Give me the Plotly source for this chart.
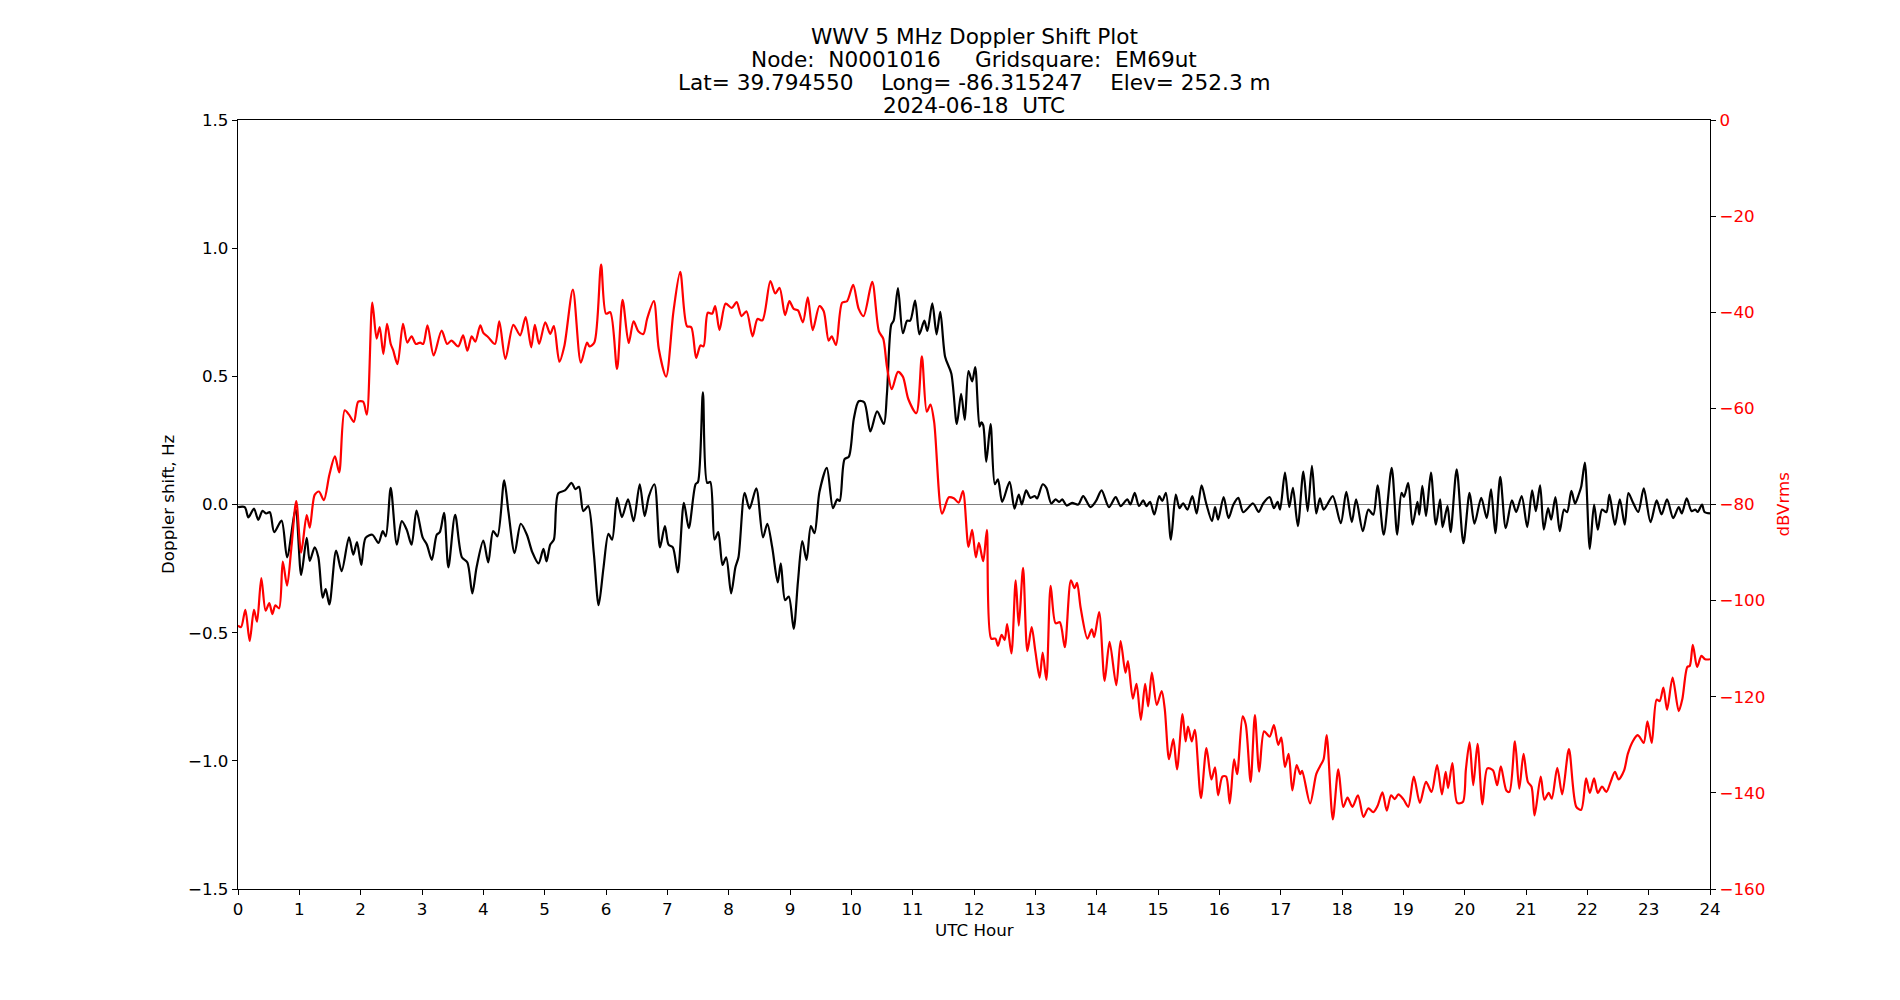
import plotly.graph_objects as go

# ---- Doppler shift (Hz), black trace ----
doppler_hours = [0.0, 0.11, 0.17, 0.26, 0.33, 0.40, 0.46, 0.52, 0.59, 0.71, 0.80, 0.94, 1.03, 1.12, 1.17, 1.25, 1.31, 1.38, 1.43, 1.49,
                 1.60, 1.69, 1.81, 1.88, 1.94, 2.01, 2.08, 2.19, 2.29, 2.36, 2.41, 2.49, 2.59, 2.67, 2.75, 2.83, 2.91, 3.01, 3.08, 3.16,
                 3.24, 3.29, 3.36, 3.43, 3.54, 3.65, 3.74, 3.82, 3.89, 4.00,
                 4.08, 4.16, 4.23, 4.34, 4.41, 4.51, 4.61, 4.71, 4.80, 4.90, 4.98, 5.03, 5.09, 5.15, 5.22, 5.33, 5.44, 5.50, 5.56, 5.63,
                 5.71, 5.80, 5.88, 5.96, 6.04, 6.10, 6.18, 6.26, 6.36, 6.45, 6.55, 6.63, 6.70, 6.79, 6.88, 6.96, 7.02, 7.09, 7.17, 7.27,
                 7.35, 7.46, 7.50, 7.58, 7.65, 7.70, 7.77, 7.83, 7.90, 7.96, 8.04,
                 8.11, 8.16, 8.26, 8.34, 8.45, 8.56, 8.63, 8.71, 8.80, 8.85, 8.92, 8.98, 9.06, 9.13, 9.20, 9.27, 9.34, 9.40, 9.48, 9.60,
                 9.70, 9.77, 9.81, 9.89, 9.96, 10.04, 10.12, 10.21, 10.31, 10.42, 10.53, 10.58, 10.65, 10.69, 10.76, 10.84, 10.91, 10.96,
                 11.04, 11.11, 11.19, 11.24, 11.32, 11.39, 11.45, 11.53, 11.63, 11.72, 11.79, 11.85, 11.91, 11.97, 12.02, 12.09,
                 12.12, 12.15, 12.20, 12.27, 12.34, 12.39, 12.46, 12.58, 12.66, 12.73, 12.78, 12.85, 12.92, 12.99, 13.03, 13.12, 13.18,
                 13.26, 13.33, 13.39, 13.44, 13.51, 13.60, 13.70, 13.78, 13.90, 13.99, 14.08, 14.20, 14.31, 14.39, 14.50, 14.55, 14.62,
                 14.69, 14.76, 14.81, 14.87, 14.94, 15.02, 15.07, 15.13, 15.21, 15.29, 15.35, 15.41, 15.48, 15.56, 15.63, 15.71, 15.78,
                 15.88, 15.93, 15.98, 16.07,
                 16.15, 16.23, 16.31, 16.39, 16.55, 16.64, 16.72, 16.82, 16.89, 16.95, 16.99, 17.07, 17.14, 17.20, 17.28, 17.37, 17.44,
                 17.51, 17.58, 17.64, 17.70, 17.76, 17.85, 17.98, 18.07, 18.16, 18.23, 18.34, 18.43, 18.51, 18.58, 18.68, 18.81, 18.90,
                 18.97, 19.01, 19.08, 19.15, 19.23, 19.26, 19.31, 19.37, 19.45, 19.53, 19.60, 19.64, 19.72, 19.77, 19.87, 19.98, 20.08,
                 20.16, 20.27, 20.36, 20.43, 20.50, 20.58, 20.67, 20.77, 20.84, 20.93, 21.02, 21.10, 21.16, 21.23, 21.29, 21.36, 21.41,
                 21.48, 21.55, 21.62, 21.67, 21.74, 21.80, 21.86, 21.90, 21.96, 22.04, 22.11, 22.17, 22.24, 22.31, 22.36, 22.45, 22.53,
                 22.61, 22.67, 22.74, 22.83, 22.92, 23.03, 23.13, 23.21, 23.30, 23.40, 23.49, 23.54, 23.62, 23.70, 23.76, 23.80, 23.87,
                 23.91, 24.0]
doppler_hz = [-0.010, -0.010, -0.050, -0.016, -0.060, -0.025, -0.035, -0.030, -0.108, -0.063, -0.206, -0.020, -0.275, -0.130, -0.220,
              -0.167, -0.206, -0.363, -0.330, -0.390, -0.180, -0.260, -0.128, -0.196, -0.147, -0.236, -0.130, -0.118, -0.150, -0.104,
              -0.124, 0.065, -0.157, -0.065, -0.098, -0.157, -0.024, -0.128, -0.157, -0.216, -0.118, -0.108, -0.033, -0.245, -0.040,
              -0.206, -0.226, -0.347, -0.245, -0.141,
              -0.226, -0.104, -0.124, 0.094, -0.030, -0.190, -0.075, -0.118, -0.187, -0.230, -0.173, -0.222, -0.157, -0.137, 0.043,
              0.055, 0.084, 0.060, 0.069, -0.026, -0.006, -0.187, -0.393, -0.245, -0.114, -0.137, 0.026, -0.049, 0.020, -0.065, 0.079,
              -0.045, 0.033, 0.079, -0.167, -0.084, -0.157, -0.167, -0.265, 0.006, -0.092, 0.079, 0.088, 0.438, 0.084, 0.088, -0.137,
              -0.108, -0.236, -0.206, -0.347,
              -0.245, -0.206, 0.045, -0.016, 0.063, -0.128, -0.075, -0.167, -0.304, -0.230, -0.373, -0.359, -0.485, -0.300, -0.143,
              -0.216, -0.084, -0.112, 0.049, 0.143, -0.014, 0.020, 0.014, 0.177, 0.187, 0.334, 0.403, 0.399, 0.285, 0.363, 0.314,
              0.430, 0.701, 0.717, 0.844, 0.668, 0.717, 0.717, 0.795, 0.664, 0.717, 0.677, 0.785, 0.664, 0.752, 0.575, 0.511, 0.314,
              0.432, 0.330, 0.520, 0.480, 0.536, 0.304,
              0.320, 0.310, 0.167, 0.314, 0.079, 0.098, 0.010, 0.088, -0.016, 0.039, 0.000, 0.055, 0.026, 0.033, 0.024, 0.079, 0.065,
              0.004, 0.020, 0.010, 0.020, -0.004, 0.006, 0.000, 0.033, -0.010, 0.014, 0.055, -0.010, 0.029, -0.006, 0.020, 0.000,
              0.045, -0.006, 0.016, -0.006, 0.010, -0.039, 0.033, 0.014, 0.045, -0.137, 0.039, -0.014, 0.004, -0.020, 0.033, -0.035,
              0.075, 0.010, -0.065, -0.010, -0.059, 0.029,
              -0.053, 0.000, 0.026, -0.030, 0.004, -0.029, 0.006, 0.029, -0.014, 0.010, -0.020, 0.124, -0.010, 0.065, -0.084, 0.128,
              -0.026, 0.151, -0.035, 0.024, -0.020, 0.000, 0.033, -0.073, 0.049, -0.069, 0.020, -0.104, -0.020, -0.040, 0.075, -0.118,
              0.143, -0.118, 0.045, 0.030, 0.084, -0.079, 0.010, -0.040, 0.073, -0.045, 0.124, -0.079, 0.020, -0.088, -0.006, -0.108,
              0.137, -0.151, 0.045,
              -0.075, 0.026, -0.053, 0.059, -0.112, 0.108, -0.092, 0.016, -0.029, 0.033, -0.088, 0.055, -0.026, 0.075, -0.098, -0.014,
              -0.059, 0.029, -0.104, -0.020, -0.030, 0.053, 0.004, 0.039, 0.069, 0.163, -0.173, 0.000, -0.098, -0.020, -0.030, 0.039,
              -0.079, 0.020, -0.079, 0.045, 0.010, -0.029, 0.063, -0.069, 0.016, -0.039, 0.020, -0.053, -0.010, -0.035, 0.024, -0.026,
              -0.020, -0.029, 0.000, -0.029, -0.035]

# ---- Received power (dBVrms), red trace ----
power_hours = [0.0, 0.05, 0.12, 0.19, 0.26, 0.31, 0.38, 0.45, 0.51, 0.56, 0.61, 0.67, 0.73, 0.80, 0.87, 0.95, 1.03, 1.12, 1.17, 1.25,
               1.32, 1.40, 1.49, 1.58, 1.65, 1.74, 1.81, 1.89, 1.96, 2.04, 2.10, 2.19, 2.26, 2.31, 2.37, 2.43, 2.49, 2.53, 2.60, 2.69,
               2.76, 2.83, 2.90, 2.97, 3.02, 3.09, 3.19, 3.32, 3.41, 3.48, 3.59, 3.67, 3.74, 3.81, 3.87, 3.95, 4.0,
               4.08, 4.19, 4.26, 4.36, 4.49, 4.60, 4.69, 4.78, 4.84, 4.91, 5.01, 5.09, 5.15, 5.24, 5.32, 5.46, 5.59, 5.69, 5.73, 5.81,
               5.92, 6.00, 6.07, 6.18, 6.27, 6.37, 6.45, 6.53, 6.61, 6.67, 6.78, 6.86, 6.98, 7.10, 7.21, 7.32, 7.39, 7.47, 7.54, 7.59,
               7.66, 7.73, 7.78, 7.85, 7.95, 8.05,
               8.13, 8.21, 8.29, 8.39, 8.47, 8.55, 8.68, 8.76, 8.83, 8.92, 8.99, 9.06, 9.13, 9.21, 9.29, 9.37, 9.48, 9.55, 9.63, 9.68,
               9.75, 9.85, 9.93, 10.03, 10.12, 10.20, 10.34, 10.45, 10.52, 10.58, 10.66, 10.76, 10.84, 10.93, 11.06, 11.15, 11.23,
               11.29, 11.35, 11.48, 11.59, 11.67, 11.75, 11.82, 11.91, 11.97, 12.03, 12.08,
               12.15, 12.21, 12.28, 12.35, 12.39, 12.45, 12.50, 12.54, 12.61, 12.68, 12.73, 12.80, 12.87, 12.94, 13.00, 13.07, 13.12,
               13.18, 13.25, 13.33, 13.40, 13.48, 13.58, 13.64, 13.68, 13.74, 13.85, 13.92, 13.96, 14.04, 14.13, 14.21, 14.32, 14.39,
               14.47, 14.51, 14.59, 14.65, 14.72, 14.79, 14.84, 14.90, 14.98, 15.06, 15.11, 15.18, 15.25, 15.31, 15.40, 15.45, 15.49,
               15.55, 15.60, 15.70, 15.79, 15.87, 15.93, 15.98, 16.05,
               16.11, 16.17, 16.24, 16.29, 16.38, 16.43, 16.51, 16.58, 16.65, 16.73, 16.82, 16.89, 16.96, 17.01, 17.07, 17.13, 17.19,
               17.26, 17.32, 17.35, 17.48, 17.58, 17.64, 17.70, 17.75, 17.85, 17.94, 18.02, 18.09, 18.17, 18.26, 18.35, 18.43, 18.51,
               18.58, 18.66, 18.73, 18.80, 18.86, 18.92, 19.00, 19.08, 19.17, 19.27, 19.37, 19.46, 19.55, 19.63, 19.69, 19.73, 19.80,
               19.88, 19.97, 20.02, 20.08,
               20.14, 20.21, 20.29, 20.37, 20.46, 20.53, 20.59, 20.68, 20.73, 20.82, 20.89, 20.96, 21.03, 21.09, 21.14, 21.24, 21.30,
               21.37, 21.42, 21.51, 21.59, 21.70, 21.82, 21.90, 21.98, 22.04, 22.11, 22.17, 22.24, 22.31, 22.38, 22.45, 22.51, 22.60,
               22.66, 22.74, 22.82, 22.85, 22.92, 22.98, 23.05, 23.13, 23.18, 23.24, 23.30, 23.39, 23.49, 23.55, 23.63, 23.67, 23.72,
               23.79, 23.86, 23.92, 24.0]
power_dbv = [-105.2, -105.5, -101.9, -108.4, -101.9, -104.4, -95.3, -102.1, -100.5, -102.8, -101.0, -101.6, -91.9, -96.9, -89.0,
             -79.3, -90.0, -82.2, -84.8, -78.0, -77.3, -79.1, -73.8, -70.0, -73.3, -60.4, -61.3, -62.8, -58.6, -58.6, -61.3, -38.0,
             -45.5, -43.1, -48.7, -42.4, -46.6, -47.9, -50.8, -42.4, -46.3, -45.0, -46.6, -46.3, -46.6, -42.7, -49.0, -43.8, -46.6,
             -45.9, -47.1, -44.8, -48.0, -45.0, -46.1, -42.7, -44.3,
             -45.2, -46.6, -41.9, -49.7, -42.6, -44.8, -41.0, -47.3, -42.6, -46.6, -42.1, -44.5, -42.9, -50.3, -47.1, -35.3, -50.5,
             -46.3, -47.1, -46.3, -30.1, -40.3, -40.0, -51.8, -37.4, -46.4, -41.9, -44.0, -44.5, -41.4, -37.7, -47.6, -53.4, -39.8,
             -31.6, -42.9, -43.1, -49.5, -46.9, -47.1, -40.1, -40.3, -38.7, -43.7, -38.2, -39.1,
             -37.9, -40.8, -39.8, -45.0, -41.4, -41.7, -33.5, -36.1, -34.9, -40.6, -37.7, -39.3, -39.6, -42.1, -36.9, -43.7, -38.7,
             -39.8, -45.9, -45.0, -46.8, -38.0, -37.7, -34.3, -39.3, -40.8, -33.7, -44.0, -45.5, -51.3, -56.0, -52.4, -53.4, -58.1,
             -61.0, -49.2, -60.7, -59.2, -62.8, -81.9, -78.5, -78.7, -79.6, -77.2, -88.8, -85.3, -91.0, -88.0,
             -91.8, -85.3, -107.9, -107.9, -109.4, -107.1, -108.2, -104.9, -111.0, -95.8, -105.2, -93.2, -110.5, -105.5, -110.5,
             -116.0, -110.8, -116.5, -96.9, -104.7, -104.5, -109.7, -95.8, -97.4, -96.3, -101.6, -107.9, -106.0, -107.6, -102.4,
             -116.7, -108.6, -117.6, -108.4, -115.0, -112.6, -120.4, -117.3, -124.8, -117.3, -122.0, -115.0, -121.7, -118.8, -122.5,
             -133.0, -128.8, -135.1, -123.6, -129.3, -126.2, -129.3, -126.9, -141.1, -130.7, -137.2, -134.7, -140.5, -136.6,
             -136.6, -142.2, -133.0, -136.1, -124.1, -125.7, -137.7, -123.8, -135.6, -127.2, -128.3, -125.9, -130.0, -128.5, -134.6,
             -131.9, -139.5, -134.2, -136.1, -135.4, -142.2, -136.1, -134.5, -133.0, -128.0, -145.5, -135.1, -142.9, -141.0, -142.9,
             -140.5, -145.0, -143.2, -144.0, -142.7, -139.9, -143.7, -140.5, -141.3, -140.3, -141.3, -142.9, -136.6, -142.1, -137.7,
             -139.8, -134.2, -140.3, -135.6, -139.0, -133.8, -142.1, -141.9, -135.1, -129.5,
             -138.4, -129.8, -142.4, -134.9, -135.3, -138.4, -134.5, -139.5, -139.8, -129.3, -139.1, -131.9, -137.7, -138.7, -144.7,
             -136.6, -141.4, -140.0, -141.2, -134.8, -140.3, -130.9, -142.9, -143.5, -137.0, -140.0, -137.0, -140.0, -138.7, -139.8,
             -137.7, -135.6, -137.2, -135.3, -131.9, -129.3, -128.0, -128.3, -129.6, -125.1, -129.6, -120.6, -120.9, -118.1, -122.7,
             -116.0, -123.0, -120.4, -113.8, -113.6, -109.2, -113.8, -111.5, -112.2, -112.2]

hour_ticks = list(range(0, 25))
doppler_ticks = [-1.5, -1.0, -0.5, 0.0, 0.5, 1.0, 1.5]
power_ticks = [-160, -140, -120, -100, -80, -60, -40, -20, 0]

title_lines = ["WWV 5 MHz Doppler Shift Plot",
               "Node:  N0001016     Gridsquare:  EM69ut",
               "Lat= 39.794550    Long= -86.315247    Elev= 252.3 m",
               "2024-06-18  UTC"]

FONT = "DejaVu Sans"
TICK = 16.7
TITLE = 21.6

fig = go.Figure()
fig.add_trace(go.Scatter(x=doppler_hours, y=doppler_hz, mode="lines",
                         line=dict(color="black", width=2.2, shape="spline", smoothing=0.8),
                         yaxis="y", showlegend=False, hoverinfo="skip"))
fig.add_trace(go.Scatter(x=power_hours, y=power_dbv, mode="lines",
                         line=dict(color="red", width=2.2, shape="spline", smoothing=0.8),
                         yaxis="y2", showlegend=False, hoverinfo="skip"))

# zero reference line
fig.add_shape(type="line", xref="paper", x0=0, x1=1, yref="y", y0=0, y1=0,
              line=dict(color="gray", width=1.2), layer="below")

fig.update_layout(
    width=1900, height=1000,
    margin=dict(l=237.5, r=190, t=120, b=110.5),
    paper_bgcolor="white", plot_bgcolor="white",
    font=dict(family=FONT, size=TICK, color="black"),
    xaxis=dict(range=[0, 24], tickvals=hour_ticks, ticktext=[str(h) for h in hour_ticks],
               showgrid=False, zeroline=False, showline=True, linecolor="black", linewidth=1.3,
               mirror=True, ticks="outside", ticklen=5, tickwidth=1.2, tickcolor="black",
               tickfont=dict(family=FONT, size=TICK, color="black")),
    yaxis=dict(range=[-1.5, 1.5], tickvals=doppler_ticks, tickformat=".1f",
               showgrid=False, zeroline=False, showline=True, linecolor="black", linewidth=1.3,
               mirror=True, ticks="outside", ticklen=5, tickwidth=1.2, tickcolor="black",
               tickfont=dict(family=FONT, size=TICK, color="black")),
    yaxis2=dict(range=[-160, 0], tickvals=power_ticks, overlaying="y", side="right",
                showgrid=False, zeroline=False, showline=True, linecolor="black", linewidth=1.3,
                ticks="outside", ticklen=5, tickwidth=1.2, tickcolor="black",
                tickfont=dict(family=FONT, size=TICK, color="red")),
)

annotations = []
for i, line in enumerate(title_lines):
    annotations.append(dict(text=line, xref="paper", yref="paper", x=0.5, y=1,
                            xanchor="center", yanchor="middle", yshift=15 + 23 * (len(title_lines) - 1 - i),
                            showarrow=False, font=dict(family=FONT, size=TITLE, color="black")))
annotations.append(dict(text="UTC Hour", xref="paper", yref="paper", x=0.5, y=0, xanchor="center",
                        yanchor="middle", yshift=-41, showarrow=False,
                        font=dict(family=FONT, size=TICK, color="black")))
annotations.append(dict(text="Doppler shift, Hz", xref="paper", yref="paper", x=0, y=0.5, xanchor="center",
                        yanchor="middle", xshift=-70.5, textangle=-90, showarrow=False,
                        font=dict(family=FONT, size=TICK, color="black")))
annotations.append(dict(text="dBVrms", xref="paper", yref="paper", x=1, y=0.5, xanchor="center",
                        yanchor="middle", xshift=72, textangle=-90, showarrow=False,
                        font=dict(family=FONT, size=TICK, color="red")))
fig.update_layout(annotations=annotations)

fig.write_html("out.html")
